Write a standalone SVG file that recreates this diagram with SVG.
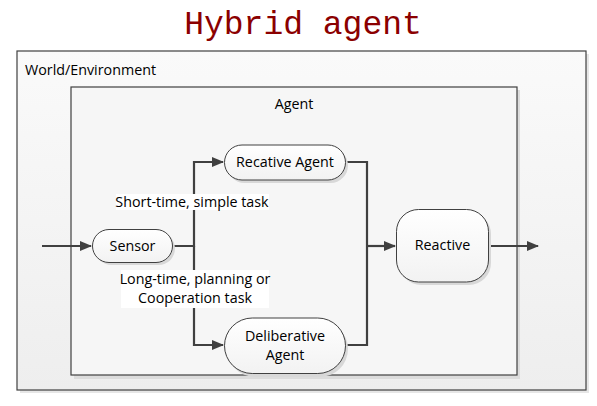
<svg xmlns="http://www.w3.org/2000/svg" width="597" height="406" viewBox="0 0 597 406">
<style>
.t{font-family:"Open Sans","DejaVu Sans",sans-serif;font-size:14.3px;fill:#000}
.box{stroke:#404040;stroke-width:1.2}
.node{fill:url(#ng);stroke:#404040;stroke-width:1}
.sh{fill:#d8d8d8}
.c{fill:none;stroke:#404040;stroke-width:2.2;stroke-linejoin:miter}
.lbl{fill:#fff}
</style>
<defs>
<linearGradient id="wg" x1="0" y1="0" x2="0" y2="1"><stop offset="0" stop-color="#fafafa"/><stop offset="1" stop-color="#eeeeee"/></linearGradient>
<linearGradient id="ng" x1="0" y1="0" x2="0" y2="1"><stop offset="0" stop-color="#ffffff"/><stop offset="1" stop-color="#f2f2f2"/></linearGradient>
<marker id="ah" viewBox="0 0 12 10" refX="11" refY="5" markerWidth="12" markerHeight="10" markerUnits="userSpaceOnUse" orient="auto"><path d="M0,0 L12,5 L0,10 Z" fill="#404040"/></marker>
</defs>
<rect width="597" height="406" fill="#fff"/>
<text x="303" y="34" text-anchor="middle" style="font-family:'Liberation Mono','DejaVu Sans Mono',monospace;font-size:33px;fill:#8b0000">Hybrid agent</text>
<g id="world">
<rect x="20" y="54" width="569" height="339" fill="#e6e6e6"/>
<rect x="17" y="51" width="569" height="339" fill="url(#wg)" class="box"/>
<text class="t" x="25" y="75">World/Environment</text>
</g>
<g id="agent">
<rect x="74" y="90" width="446" height="289" fill="#dcdcdc"/>
<rect x="71" y="87" width="446" height="288" fill="#f6f6f6" class="box"/>
<text class="t" x="294" y="109" text-anchor="middle">Agent</text>
</g>
<g id="connectors">
<path class="c" d="M42,246 H91" marker-end="url(#ah)"/>
<path class="c" d="M173,246 H194 V162 H223" marker-end="url(#ah)"/>
<path class="c" d="M194,246 V345 H223" marker-end="url(#ah)"/>
<path class="c" d="M346,162 H367 V345 H346"/>
<path class="c" d="M367,246 H395" marker-end="url(#ah)"/>
<path class="c" d="M489,246 H538" marker-end="url(#ah)"/>
<rect class="lbl" x="116" y="194" width="153" height="16"/>
<text class="t" x="192" y="207" text-anchor="middle">Short-time, simple task</text>
<rect class="lbl" x="121" y="270" width="148" height="38"/>
<text class="t" x="195" y="284" text-anchor="middle">Long-time, planning or</text>
<text class="t" x="195" y="303" text-anchor="middle">Cooperation  task</text>
</g>
<g id="sensor">
<rect class="sh" x="95" y="232" width="80" height="33" rx="16.5"/>
<rect class="node" x="92.5" y="229.5" width="80" height="33" rx="16.5"/>
<text class="t" x="132.5" y="251" text-anchor="middle">Sensor</text>
</g>
<g id="recative">
<rect class="sh" x="227" y="148" width="121" height="35" rx="17.5"/>
<rect class="node" x="224.5" y="145" width="121" height="35" rx="17.5"/>
<text class="t" x="285" y="167" text-anchor="middle">Recative Agent</text>
</g>
<g id="deliberative">
<rect class="sh" x="227" y="321" width="121" height="56" rx="28"/>
<rect class="node" x="224.5" y="318" width="121" height="55.5" rx="27.75"/>
<text class="t" x="285" y="341" text-anchor="middle">Deliberative</text>
<text class="t" x="285" y="360" text-anchor="middle">Agent</text>
</g>
<g id="reactive">
<rect class="sh" x="399" y="212" width="92" height="73" rx="22"/>
<rect class="node" x="396.5" y="209.5" width="92" height="72.5" rx="22"/>
<text class="t" x="442.5" y="250" text-anchor="middle">Reactive</text>
</g>
</svg>
